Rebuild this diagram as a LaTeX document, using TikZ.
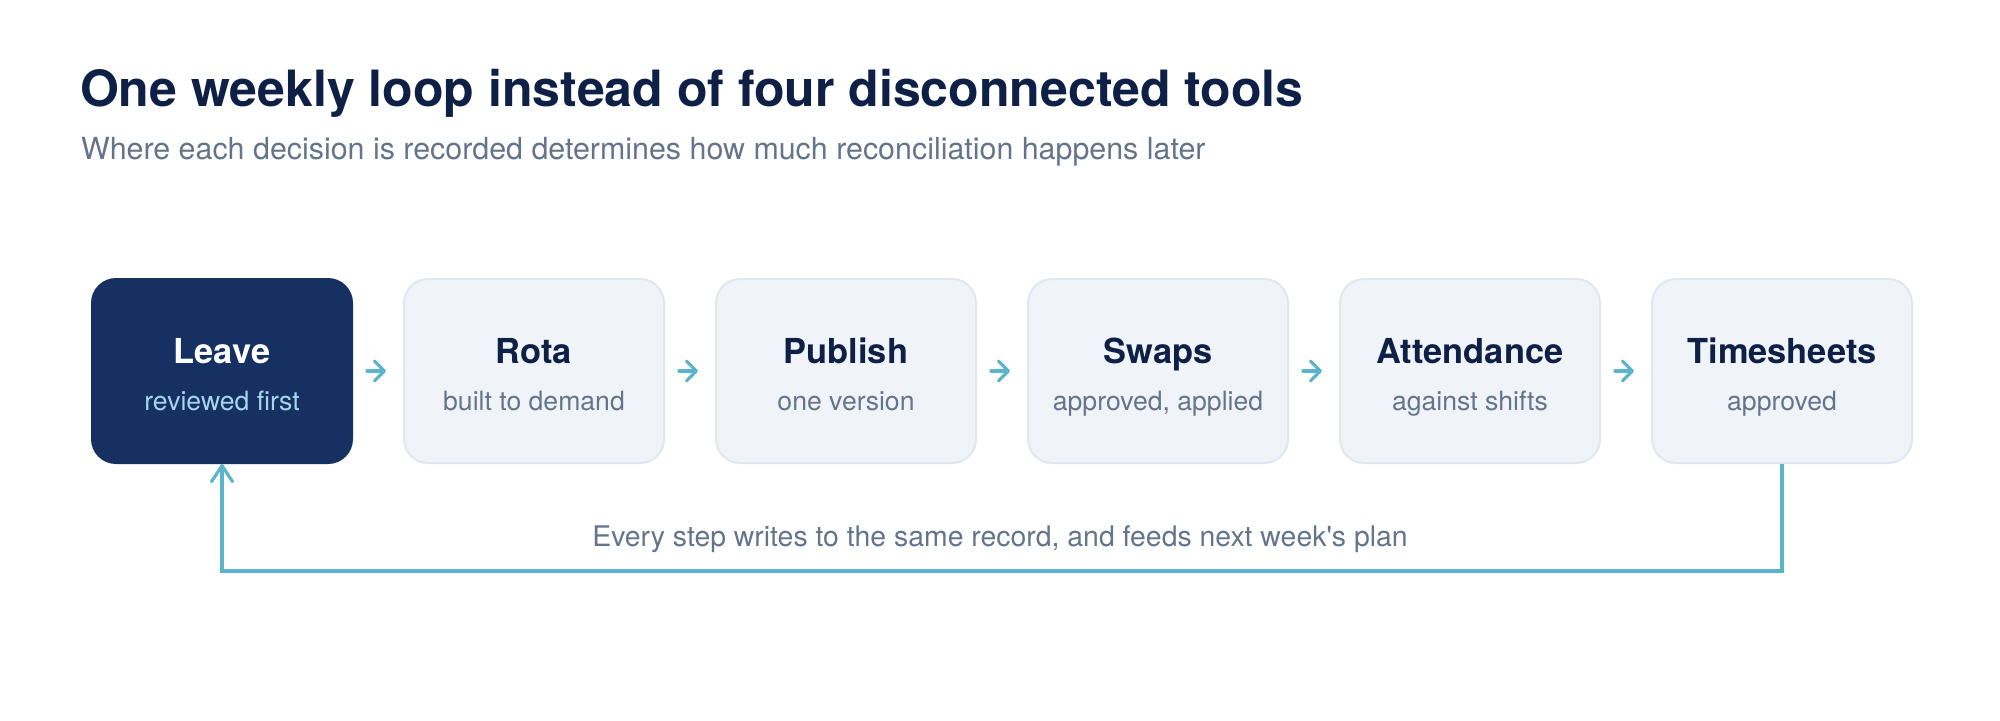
\documentclass[tikz,border=0pt]{standalone}
\usepackage{fontspec}
\setmainfont{TeX Gyre Heros}
\usetikzlibrary{arrows.meta}

\definecolor{navy}{HTML}{0F2046}
\definecolor{boxnavy}{HTML}{163062}
\definecolor{slate}{HTML}{64748B}
\definecolor{paleblue}{HTML}{A6D6EE}
\definecolor{boxfill}{HTML}{F0F4F8}
\definecolor{boxline}{HTML}{E1E7EF}
\definecolor{teal}{HTML}{5CB4CB}

\begin{document}
\begin{tikzpicture}[x=0.5pt,y=-0.5pt,
  stepbox/.style={draw=boxline,line width=1pt,fill=boxfill,rounded corners=12pt,
    minimum width=130pt,minimum height=92pt,inner sep=0pt,align=center,text=navy},
  firstbox/.style={stepbox,draw=boxnavy,fill=boxnavy,text=white},
  steparrow/.style={teal,line width=1.6pt,line cap=round,
    -{Straight Barb[length=5pt,width=10pt,line cap=round,line join=round]},
    shorten <=7pt,shorten >=8.5pt},
  looparrow/.style={teal,line width=1.6pt,
    -{Straight Barb[length=8pt,width=10.5pt,line cap=round,line join=round]}}]

\useasboundingbox[fill=white] (0,0) rectangle (2000,720);

\node[anchor=base west,text=navy,font=\bfseries\fontsize{25}{30}\selectfont]
  (title) at (73,106) {One weekly loop instead of four disconnected tools};
\node[anchor=base west,text=slate,font=\fontsize{15.2}{18}\selectfont]
  (subtitle) at (74,159) {Where each decision is recorded determines how much reconciliation happens later};

\newcommand{\steptext}[3]{{\bfseries\fontsize{17.2}{20}\selectfont\rule[-5pt]{0pt}{24.5pt}#1}\\[7.5pt]%
  {\fontsize{13.3}{16}\selectfont\color{#3}\rule[-4pt]{0pt}{14pt}#2}}

\node[firstbox] (leave) at (222,371) {\steptext{Leave}{reviewed first}{paleblue}};
\node[stepbox] (rota) at (534,371) {\steptext{Rota}{built to demand}{slate}};
\node[stepbox] (publish) at (846,371) {\steptext{Publish}{one version}{slate}};
\node[stepbox] (swaps) at (1158,371) {\steptext{Swaps}{approved, applied}{slate}};
\node[stepbox] (attend) at (1470,371) {\steptext{Attendance}{against shifts}{slate}};
\node[stepbox] (times) at (1782,371) {\steptext{Timesheets}{approved}{slate}};

\draw[steparrow] (leave) -- (rota);
\draw[steparrow] (rota) -- (publish);
\draw[steparrow] (publish) -- (swaps);
\draw[steparrow] (swaps) -- (attend);
\draw[steparrow] (attend) -- (times);

% back to the start of next week
\coordinate (turn) at (1782,571);
\draw[looparrow] (times.south) -- (turn) -| (leave.south);

\node[anchor=base,text=slate,font=\fontsize{14.2}{17}\selectfont]
  (looplabel) at (1000,546) {Every step writes to the same record, and feeds next week\textquotesingle s plan};

\end{tikzpicture}
\end{document}
